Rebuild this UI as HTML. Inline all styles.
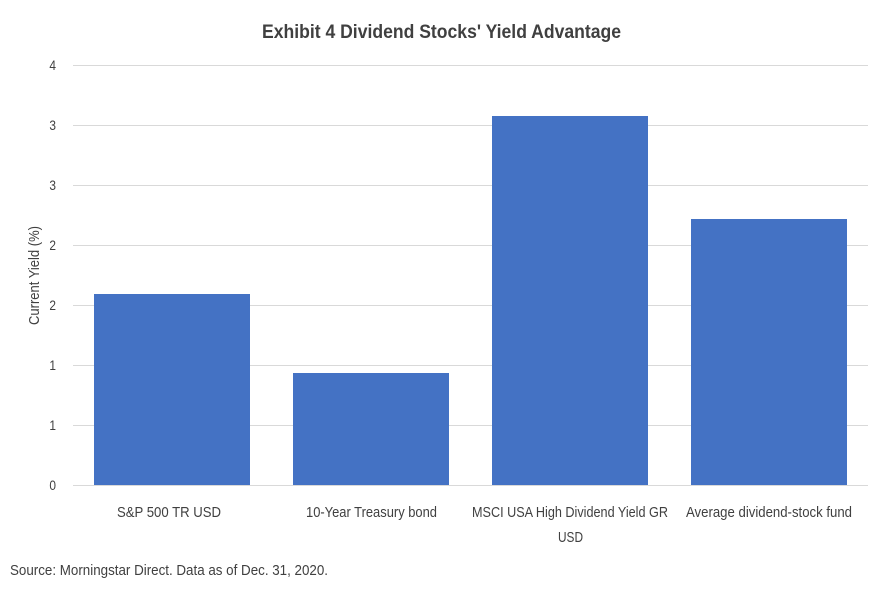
<!DOCTYPE html>
<html><head><meta charset="utf-8"><style>
body{margin:0;background:#fff;}
svg text{font-family:"Liberation Sans Narrow","Liberation Sans",sans-serif;fill:#404040;}
</style></head><body>
<svg width="883" height="608" xmlns="http://www.w3.org/2000/svg">
<rect width="883" height="608" fill="#fff"/>
<text x="262" y="38" font-size="19" font-weight="bold" textLength="359" lengthAdjust="spacingAndGlyphs">Exhibit 4  Dividend Stocks' Yield Advantage</text>
<g stroke="#d9d9d9" stroke-width="1">
<line x1="73" y1="65.5" x2="868" y2="65.5"/>
<line x1="73" y1="125.5" x2="868" y2="125.5"/>
<line x1="73" y1="185.5" x2="868" y2="185.5"/>
<line x1="73" y1="245.5" x2="868" y2="245.5"/>
<line x1="73" y1="305.5" x2="868" y2="305.5"/>
<line x1="73" y1="365.5" x2="868" y2="365.5"/>
<line x1="73" y1="425.5" x2="868" y2="425.5"/>
<line x1="73" y1="485.5" x2="868" y2="485.5"/>
</g>
<g font-size="14" text-anchor="end" transform="translate(56,0) scale(0.85,1) translate(-56,0)">
<text x="56" y="70">4</text>
<text x="56" y="130">3</text>
<text x="56" y="190">3</text>
<text x="56" y="250">2</text>
<text x="56" y="310">2</text>
<text x="56" y="370">1</text>
<text x="56" y="430">1</text>
<text x="56" y="490">0</text>
</g>
<text transform="translate(39,325) rotate(-90)" font-size="15" textLength="99" lengthAdjust="spacingAndGlyphs">Current Yield (%)</text>
<g fill="#4472c4">
<rect x="94" y="294" width="156" height="191"/>
<rect x="293" y="373" width="156" height="112"/>
<rect x="492" y="116" width="156" height="369"/>
<rect x="691" y="219" width="156" height="266"/>
</g>
<g font-size="15">
<text x="117" y="517" textLength="104" lengthAdjust="spacingAndGlyphs">S&amp;P 500 TR USD</text>
<text x="306" y="517" textLength="131" lengthAdjust="spacingAndGlyphs">10-Year Treasury bond</text>
<text x="472" y="517" textLength="196" lengthAdjust="spacingAndGlyphs">MSCI USA High Dividend Yield GR</text>
<text x="558" y="542" textLength="25" lengthAdjust="spacingAndGlyphs">USD</text>
<text x="686" y="517" textLength="166" lengthAdjust="spacingAndGlyphs">Average dividend-stock fund</text>
</g>
<text x="10" y="575" font-size="15" textLength="318" lengthAdjust="spacingAndGlyphs">Source: Morningstar Direct. Data as of Dec. 31, 2020.</text>
</svg>
</body></html>
